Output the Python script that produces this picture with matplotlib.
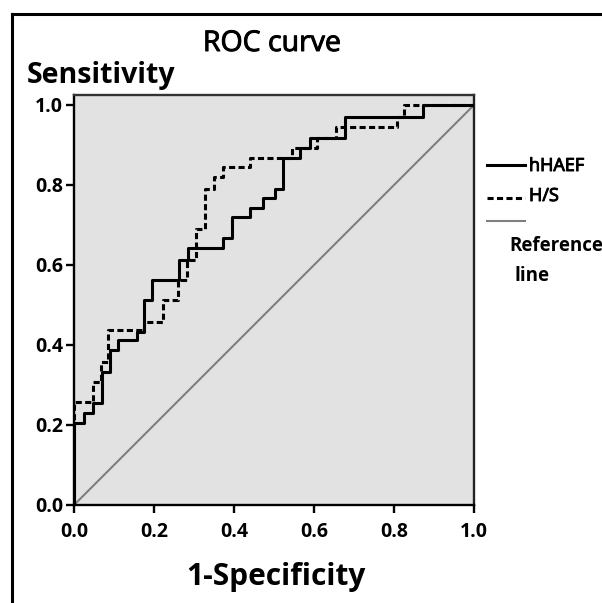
import matplotlib
matplotlib.use("Agg")
import matplotlib.pyplot as plt
import matplotlib.patheffects as pe
from matplotlib.lines import Line2D

plt.rcParams['font.family'] = ['Open Sans', 'DejaVu Sans']

# ROC data (1-Specificity, Sensitivity)
hhaef_fpr = [0, 0, 0.025, 0.048, 0.069, 0.09, 0.11, 0.158, 0.175, 0.194, 0.2625,
             0.286, 0.373, 0.394, 0.44, 0.473, 0.5025, 0.523, 0.565, 0.59, 0.6775,
             0.873, 1.0]
hhaef_tpr = [0, 0.205, 0.23, 0.255, 0.333, 0.3875, 0.4125, 0.433, 0.5125, 0.5625,
             0.6125, 0.642, 0.667, 0.72, 0.742, 0.767, 0.79, 0.867, 0.892, 0.917,
             0.97, 1.0, 1.0]
hs_fpr = [0, 0, 0.048, 0.068, 0.085, 0.175, 0.223, 0.261, 0.283, 0.305, 0.3275,
          0.35, 0.373, 0.44, 0.545, 0.607, 0.655, 0.807, 0.825, 1.0]
hs_tpr = [0, 0.258, 0.308, 0.358, 0.4375, 0.458, 0.5125, 0.5625, 0.6125, 0.69,
          0.79, 0.82, 0.844, 0.867, 0.892, 0.917, 0.946, 0.97, 1.0, 1.0]
ref_x = [0, 1]
ref_y = [0, 1]
ticks = [0.0, 0.2, 0.4, 0.6, 0.8, 1.0]
tick_labels = ["0.0", "0.2", "0.4", "0.6", "0.8", "1.0"]
legend_labels = ["hHAEF", "H/S", "Reference line"]

W, H = 602, 603
fig = plt.figure(figsize=(W / 100, H / 100), dpi=100)
fig.patch.set_facecolor("white")

ax = fig.add_axes([74 / W, (H - 505) / H, 400 / W, 410 / H])
ax.set_facecolor("#e2e2e2")
ax.set_xlim(0, 1)
ax.set_ylim(0, 1.025)

ax.plot(ref_x, ref_y, color="#7f7f7f", lw=1.5, zorder=2)
ax.plot(hs_fpr, hs_tpr, drawstyle="steps-post", color="black", lw=2.2,
        dashes=(2.0, 1.1), zorder=3)
ax.plot(hhaef_fpr, hhaef_tpr, drawstyle="steps-post", color="black", lw=2.2,
        zorder=4)

for s in ax.spines.values():
    s.set_linewidth(1.7)
    s.set_color("black")
ax.spines["top"].set_color("#333333")
ax.spines["right"].set_color("#222222")

ax.set_xticks(ticks)
ax.set_xticklabels(tick_labels, fontweight="bold")
ax.set_yticks(ticks)
ax.set_yticklabels(tick_labels, fontweight="bold")
ax.tick_params(direction="out", length=6, width=1.7, labelsize=14)
ax.tick_params(axis="x", pad=6)
ax.tick_params(axis="y", pad=2)

medium = [pe.withStroke(linewidth=0.7, foreground="black")]

# Titles / axis labels
fig.text(272 / W, 1 - 44 / H, "ROC curve", ha="center", va="center",
         fontsize=20.5, path_effects=medium)
fig.text(27 / W, 1 - 75 / H, "Sensitivity", ha="left", va="center",
         fontsize=20.5, fontweight="bold")
fig.text(276 / W, 1 - 577 / H, "1-Specificity", ha="center", va="center",
         fontsize=21.5, fontweight="bold")

# Legend drawn manually (as in the original)
def fline(x0, x1, y, **kw):
    fig.add_artist(Line2D([x0 / W, x1 / W], [1 - y / H, 1 - y / H],
                          transform=fig.transFigure, **kw))

fline(487, 525, 165, color="black", lw=2.2)
fline(487, 525, 198, color="black", lw=2.2, dashes=(2.0, 1.1))
fline(487, 525, 221, color="#7f7f7f", lw=1.5)
fig.text(529 / W, 1 - 166 / H, legend_labels[0], ha="left", va="center",
         fontsize=13, path_effects=medium)
fig.text(529 / W, 1 - 196 / H, legend_labels[1], ha="left", va="center",
         fontsize=13, path_effects=medium)
ref_words = legend_labels[2].split(" ")
fig.text(509 / W, 1 - 246 / H, ref_words[0], ha="left", va="center",
         fontsize=13.5, fontweight="bold")
fig.text(515 / W, 1 - 276 / H, ref_words[1], ha="left", va="center",
         fontsize=13.5, fontweight="bold")

# Outer frame of the panel
fline(12, W + 5, 14, color="black", lw=2.2)
fig.add_artist(Line2D([12 / W, 12 / W], [1 - 14 / H, -0.01],
                      transform=fig.transFigure, color="black", lw=2.2))

fig.savefig("out.png", dpi=100)
